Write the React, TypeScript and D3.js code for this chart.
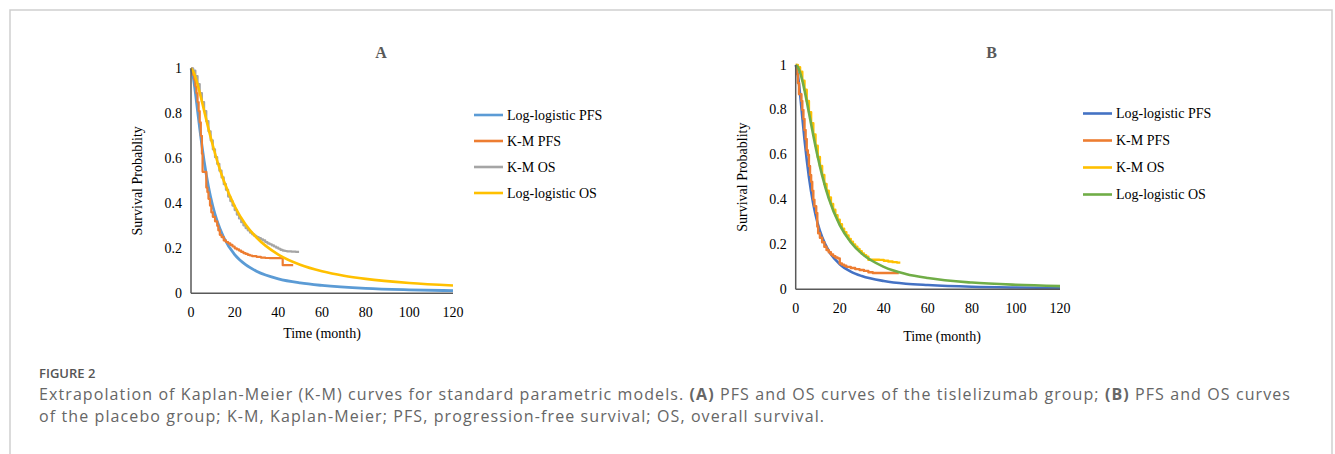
import React from "react";
import * as d3 from "d3";

// ---------- DATA ----------
const xTicks = [0, 20, 40, 60, 80, 100, 120];
const yTicks = [0, 0.2, 0.4, 0.6, 0.8, 1];
const yTickLabels = ["0", "0.2", "0.4", "0.6", "0.8", "1"];

// Panel A (tislelizumab)
const aLogLogisticPFS: [number, number][] = [
  [0, 1], [1, 0.962], [2, 0.892], [3, 0.812], [4, 0.732], [5, 0.657], [6, 0.588],
  [8, 0.474], [10, 0.387], [12, 0.32], [15, 0.248], [20, 0.172], [25, 0.127],
  [30, 0.098], [40, 0.064], [50, 0.046], [60, 0.035], [80, 0.022], [100, 0.0156], [120, 0.0117],
];
const aKmPFS: [number, number][] = [
  [0, 1], [0.5, 0.99], [1, 0.97], [1.5, 0.95], [2, 0.92], [2.5, 0.89], [3, 0.85], [3.5, 0.81],
  [4, 0.76], [4.5, 0.7], [5, 0.62], [5.3, 0.54], [7, 0.47], [7.5, 0.45], [8, 0.42], [8.7, 0.39],
  [9.3, 0.36], [10, 0.34], [11, 0.32], [12, 0.3], [12.5, 0.28], [13.2, 0.26], [14, 0.25],
  [15, 0.235], [16, 0.228], [17, 0.222], [18, 0.215], [19, 0.208], [20, 0.2], [21, 0.195],
  [22, 0.19], [23, 0.184], [24, 0.179], [25, 0.175], [26, 0.171], [27, 0.168], [28, 0.165],
  [30, 0.162], [32, 0.159], [34, 0.157], [36, 0.156], [42, 0.125], [46.8, 0.125],
];
const aKmOS: [number, number][] = [
  [0, 1], [1, 0.99], [2, 0.965], [3, 0.93], [4, 0.89], [5, 0.85], [6, 0.81], [7, 0.765],
  [8, 0.72], [9, 0.68], [10, 0.64], [11, 0.605], [12, 0.575], [13, 0.545], [14, 0.515],
  [15, 0.485], [16, 0.46], [17, 0.43], [18, 0.41], [19, 0.39], [20, 0.37], [21, 0.35],
  [22, 0.333], [23, 0.316], [24, 0.302], [25, 0.29], [26, 0.28], [27, 0.27], [28, 0.262],
  [29, 0.255], [30, 0.25], [31, 0.245], [32, 0.24], [33, 0.235], [34, 0.228], [35, 0.222],
  [36, 0.218], [37, 0.213], [38, 0.208], [39, 0.203], [40, 0.198], [41, 0.193], [42, 0.19],
  [43, 0.188], [44, 0.186], [46, 0.185], [48, 0.184], [49.5, 0.184],
];
const aLogLogisticOS: [number, number][] = [
  [0, 1], [1, 0.987], [2, 0.962], [3, 0.929], [4, 0.892], [5, 0.853], [6, 0.812], [8, 0.732],
  [10, 0.657], [12, 0.588], [15, 0.5], [20, 0.387], [25, 0.306], [30, 0.248], [40, 0.172],
  [50, 0.127], [60, 0.098], [70, 0.078], [80, 0.064], [100, 0.046], [120, 0.035],
];

// Panel B (placebo)
const bLogLogisticPFS: [number, number][] = [
  [0, 1], [1, 0.956], [2, 0.869], [3, 0.767], [4, 0.667], [5, 0.578], [6, 0.5], [8, 0.379],
  [10, 0.293], [12, 0.233], [15, 0.171], [20, 0.112], [25, 0.079], [30, 0.059], [40, 0.037],
  [50, 0.025], [60, 0.019], [80, 0.0115], [100, 0.0079], [120, 0.0058],
];
const bKmPFS: [number, number][] = [
  [0, 1], [0.5, 0.96], [1, 0.92], [1.5, 0.87], [2.6, 0.84], [3, 0.8], [3.5, 0.76], [4, 0.71],
  [4.5, 0.67], [5, 0.62], [5.5, 0.6], [6, 0.55], [6.5, 0.51], [7, 0.48], [7.5, 0.44], [8, 0.4],
  [8.5, 0.37], [9.3, 0.34], [9.8, 0.28], [10.2, 0.25], [11, 0.23], [12, 0.21], [13, 0.19],
  [14, 0.175], [15, 0.165], [16, 0.155], [17, 0.148], [18, 0.142], [19, 0.138], [20, 0.115],
  [21, 0.11], [22, 0.105], [23, 0.1], [25, 0.095], [27, 0.09], [29, 0.086], [31, 0.082],
  [33, 0.076], [35, 0.073], [46.8, 0.073],
];
const bKmOS: [number, number][] = [
  [0, 1], [1, 0.99], [2, 0.97], [3, 0.93], [4, 0.89], [5, 0.84], [6, 0.79], [7, 0.74],
  [8, 0.69], [9, 0.64], [10, 0.59], [11, 0.55], [12, 0.51], [13, 0.47], [14, 0.44], [15, 0.41],
  [16, 0.38], [17, 0.355], [18, 0.33], [19, 0.31], [20, 0.29], [21, 0.27], [22, 0.255],
  [23, 0.24], [24, 0.225], [25, 0.212], [26, 0.2], [27, 0.19], [28, 0.18], [29, 0.17],
  [30, 0.16], [31, 0.152], [32, 0.145], [33, 0.132], [36, 0.132], [38, 0.131], [40, 0.127],
  [42, 0.124], [44, 0.121], [46, 0.119], [47.5, 0.119],
];
const bLogLogisticOS: [number, number][] = [
  [0, 1], [1, 0.99], [2, 0.966], [3, 0.931], [4, 0.887], [5, 0.839], [6, 0.788], [8, 0.686],
  [10, 0.591], [12, 0.508], [15, 0.405], [20, 0.286], [25, 0.21], [30, 0.159], [40, 0.1],
  [50, 0.0685], [60, 0.05], [80, 0.03], [100, 0.02], [120, 0.0143],
];

type Series = { name: string; data: [number, number][]; color: string; km: boolean; width: number };

const seriesA: Series[] = [
  { name: "Log-logistic PFS", data: aLogLogisticPFS, color: "#5B9BD5", km: false, width: 2.8 },
  { name: "K-M PFS", data: aKmPFS, color: "#ED7D31", km: true, width: 2.2 },
  { name: "K-M OS", data: aKmOS, color: "#A5A5A5", km: true, width: 2.2 },
  { name: "Log-logistic OS", data: aLogLogisticOS, color: "#FFC000", km: false, width: 2.6 },
];
const seriesB: Series[] = [
  { name: "Log-logistic PFS", data: bLogLogisticPFS, color: "#4472C4", km: false, width: 2.6 },
  { name: "K-M PFS", data: bKmPFS, color: "#ED7D31", km: true, width: 2.4 },
  { name: "K-M OS", data: bKmOS, color: "#FFC000", km: true, width: 2.4 },
  { name: "Log-logistic OS", data: bLogLogisticOS, color: "#70AD47", km: false, width: 2.6 },
];

const SERIF = "'Liberation Serif', 'Times New Roman', serif";
const SANS = "'Open Sans', 'Noto Sans', sans-serif";

type PanelProps = {
  title: string;
  series: Series[];
  x0: number; x1: number; y0: number; y1: number;
  titleX: number;
  xTitleX: number; xTitleY: number;
  yTitleX: number;
  legendLineX: number; legendTextX: number; legendY: number; legendStep: number;
  xLabelY: number;
};

function Panel(p: PanelProps) {
  const x = d3.scaleLinear().domain([0, 120]).range([p.x0, p.x1]);
  const y = d3.scaleLinear().domain([0, 1]).range([p.y0, p.y1]);
  const smooth = d3.line<[number, number]>().x((d) => x(d[0])).y((d) => y(d[1])).curve(d3.curveMonotoneX);
  const step = d3.line<[number, number]>().x((d) => x(d[0])).y((d) => y(d[1])).curve(d3.curveStepAfter);
  const axisColor = "#595959";
  return (
    <g>
      <text x={p.titleX} y={58} textAnchor="middle" fontFamily={SERIF} fontWeight="bold" fontSize={16} fill="#595959">
        {p.title}
      </text>
      {yTicks.map((t, i) => (
        <text key={"y" + i} x={p.x0 - 9} y={y(t) + 4.5} textAnchor="end" fontFamily={SERIF} fontSize={14} fill="#000">
          {yTickLabels[i]}
        </text>
      ))}
      {xTicks.map((t) => (
        <text key={"x" + t} x={x(t)} y={p.xLabelY} textAnchor="middle" fontFamily={SERIF} fontSize={14} fill="#000">
          {t}
        </text>
      ))}
      <text x={p.xTitleX} y={p.xTitleY} textAnchor="middle" fontFamily={SERIF} fontSize={14} fill="#000">
        Time (month)
      </text>
      <text
        transform={`translate(${p.yTitleX},${(p.y0 + p.y1) / 2}) rotate(-90)`}
        textAnchor="middle"
        fontFamily={SERIF}
        fontSize={14}
        fill="#000"
      >
        Survival Probablity
      </text>
      {p.series.map((s) => (
        <path
          key={s.name}
          d={(s.km ? step : smooth)(s.data) || ""}
          fill="none"
          stroke={s.color}
          strokeWidth={s.width}
          strokeLinejoin="round"
        />
      ))}
      <line x1={p.x0} x2={p.x0} y1={y(1)} y2={y(0)} stroke={axisColor} strokeWidth={1.5} />
      <line x1={p.x0} x2={p.x1} y1={y(0)} y2={y(0)} stroke={axisColor} strokeWidth={1.5} />
      {p.series.map((s, i) => (
        <g key={"lg" + i}>
          <line
            x1={p.legendLineX}
            x2={p.legendLineX + 29}
            y1={p.legendY + i * p.legendStep}
            y2={p.legendY + i * p.legendStep}
            stroke={s.color}
            strokeWidth={2.6}
          />
          <text x={p.legendTextX} y={p.legendY + i * p.legendStep + 4.5} fontFamily={SERIF} fontSize={14} fill="#000">
            {s.name}
          </text>
        </g>
      ))}
    </g>
  );
}

export default function App() {
  return (
    <svg width={1335} height={454} style={{ position: "absolute", left: 0, top: 0, background: "#fff" }}>
      <rect x={0} y={0} width={1335} height={454} fill="#fff" />
      <path d="M10,454 V10 H1332 V454" fill="none" stroke="#cfcfcf" strokeWidth={1.5} />
      <Panel
        title="A"
        series={seriesA}
        x0={191} x1={453} y0={293.3} y1={68.3}
        titleX={381}
        xTitleX={322} xTitleY={338}
        yTitleX={142}
        legendLineX={474} legendTextX={507} legendY={115} legendStep={26}
        xLabelY={316.5}
      />
      <Panel
        title="B"
        series={seriesB}
        x0={795.7} x1={1060} y0={289.3} y1={65}
        titleX={991.7}
        xTitleX={942} xTitleY={340.5}
        yTitleX={747}
        legendLineX={1083} legendTextX={1116} legendY={113.5} legendStep={27}
        xLabelY={312.5}
      />
      <text x={39} y={378} fontFamily={SANS} fontWeight={600} fontSize={13} fill="#555">
        FIGURE 2
      </text>
      <text x={39} y={400} fontFamily={SANS} fontSize={16} fill="#666" textLength={1251} lengthAdjust="spacing">
        Extrapolation of Kaplan-Meier (K-M) curves for standard parametric models.{" "}
        <tspan fontWeight="bold">(A)</tspan> PFS and OS curves of the tislelizumab group;{" "}
        <tspan fontWeight="bold">(B)</tspan> PFS and OS curves
      </text>
      <text x={39} y={422} fontFamily={SANS} fontSize={16} fill="#666" textLength={785} lengthAdjust="spacing">
        of the placebo group; K-M, Kaplan-Meier; PFS, progression-free survival; OS, overall survival.
      </text>
    </svg>
  );
}
